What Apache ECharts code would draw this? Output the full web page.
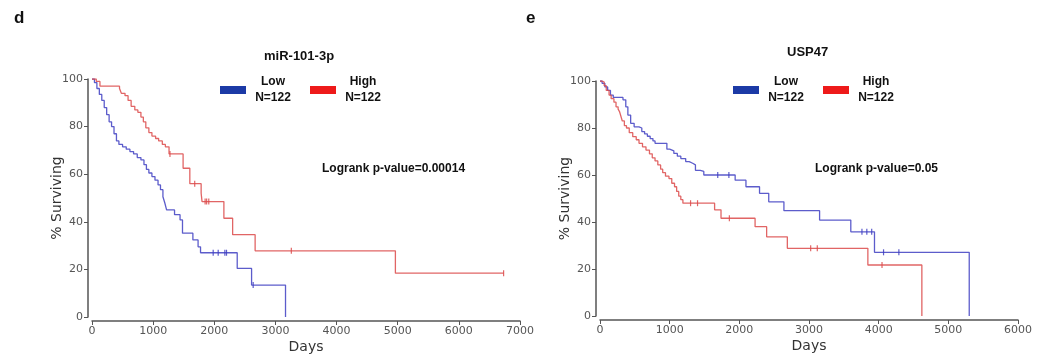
<!DOCTYPE html>
<html>
<head>
<meta charset="utf-8">
<script src="https://cdn.jsdelivr.net/npm/echarts@6/dist/echarts.min.js"></script>
<style>
  html, body { margin: 0; padding: 0; background: #fff; }
  #chart { width: 1049px; height: 356px; }
</style>
</head>
<body>
<div id="chart"></div>
<script>
// panel d: miR-101-3p  -- [day, % surviving after the drop at that day]
const mirLow = [
  [0,100],[40,98.5],[80,96],[120,93.5],[160,91],[200,88],[240,85],[280,82],[320,80],[360,77],
  [400,74],[440,72.5],[500,71.5],[560,70.5],[620,69.5],[680,68.5],[740,67],[800,66],[850,64],
  [890,62],[930,60.5],[980,59],[1030,57.5],[1080,55.5],[1120,53.5],[1160,50.5],[1190,48],
  [1220,45],[1350,43],[1440,40.8],[1480,35.2],[1650,32.4],[1735,29.5],[1775,27],
  [2375,20.4],[2610,13.4],[3165,0]
]
const mirHigh = [
  [0,100],[70,99],[130,97],[450,96],[480,94],[540,93],[590,91],[640,88.5],[700,87],[750,86],
  [800,84],[840,82],[880,79.5],[930,77.5],[980,76],[1040,75],[1090,74],[1150,72.5],[1200,71.5],
  [1260,68.5],[1490,62.5],[1600,56],[1785,52],[1800,48.5],[2157,41.5],[2300,34.6],[2668,27.8],
  [4962,18.4],[6732,18.4]
]
const mirLowCens = [[1982,27],[2064,27],[2173,27],[2200,27],[2636,13.4]]
const mirHighCens = [[1275,68.5],[1680,56],[1850,48.5],[1875,48.5],[1910,48.5],[3260,27.8],[6732,18.4]]

// panel e: USP47
const uspLow = [
  [0,100],[30,99],[70,97.5],[110,96],[150,94],[190,93],[330,92],[370,89],[400,85.5],[440,82],
  [490,80.5],[560,80],[600,78.5],[640,77.5],[680,76.5],[720,75.5],[760,74.5],[790,73.5],
  [960,71],[1000,70.3],[1060,69.2],[1110,68],[1160,67],[1230,65.7],[1280,65],[1330,64.3],
  [1370,62],[1440,61.5],[1490,60],[1940,57.8],[2095,55],[2290,52.2],[2422,48.6],[2640,44.8],
  [3152,40.8],[3600,35.8],[3940,27.1],[5300,0]
]
const uspHigh = [
  [0,100],[30,99.5],[60,98],[90,96],[130,94],[160,92.5],[200,91],[230,89],[260,88],[280,87],
  [300,85],[320,83],[350,81],[380,80],[420,78],[470,76.3],[520,75],[560,73.5],[610,72],[660,70.6],
  [710,69],[750,67.3],[790,66],[830,64.3],[870,62.5],[900,61],[940,59.5],[990,58.5],[1030,56.5],
  [1070,55],[1100,53],[1130,51],[1160,49.5],[1190,48],[1645,45.2],[1737,41.6],[2226,38],
  [2392,33.7],[2689,28.8],[3845,21.7],[4620,0]
]
const uspLowCens = [[1690,60],[1850,60],[3760,35.8],[3830,35.8],[3900,35.8],[4070,27.1],[4290,27.1]]
const uspHighCens = [[1300,48],[1400,48],[1857,41.6],[3024,28.8],[3119,28.8],[4048,21.7]]

const groups = ['Low', 'High']
const groupN = ['N=122', 'N=122']

const blueLine = '#3f3fc2'
const redLine = '#dc4a4a'
const blueKey = '#1c3aa6'
const redKey = '#ee1a1a'
const axisGrey = '#555'
const font = 'DejaVu Sans'
const boldFont = 'Liberation Sans'

const chart = echarts.init(document.getElementById('chart'))

function xAxis(gridIndex, max) {
  return {
    type: 'value', gridIndex, min: 0, max, interval: 1000, offset: 4,
    name: 'Days', nameLocation: 'middle', nameGap: 19, nameMoveOverlap: false,
    nameTextStyle: { fontFamily: font, fontSize: 14, color: '#333' },
    axisLine: { onZero: false, lineStyle: { color: axisGrey, width: 1.5 } },
    axisTick: { length: 4, lineStyle: { color: axisGrey } },
    axisLabel: { fontFamily: font, fontSize: 11, color: axisGrey, margin: 5, formatter: v => String(v) },
    splitLine: { show: false },
  }
}

function yAxis(gridIndex) {
  return {
    type: 'value', gridIndex, min: 0, max: 100, interval: 20, offset: 4,
    name: '% Surviving', nameLocation: 'middle', nameGap: 24, nameMoveOverlap: false,
    nameTextStyle: { fontFamily: font, fontSize: 14, color: '#333' },
    axisLine: { show: true, onZero: false, lineStyle: { color: axisGrey, width: 1.5 } },
    axisTick: { show: true, length: 4, lineStyle: { color: axisGrey } },
    axisLabel: { fontFamily: font, fontSize: 11, color: axisGrey, margin: 5 },
    splitLine: { show: false },
  }
}

function curve(name, data, color, idx) {
  return {
    name, type: 'line', step: 'end', data, xAxisIndex: idx, yAxisIndex: idx,
    showSymbol: false, symbol: 'none', silent: true,
    lineStyle: { color, width: 1.3, opacity: 0.85 },
    itemStyle: { color },
  }
}

function censor(name, data, color, idx) {
  return {
    name, type: 'scatter', data, xAxisIndex: idx, yAxisIndex: idx,
    symbol: 'rect', symbolSize: [1.2, 6], silent: true,
    itemStyle: { color, opacity: 0.85 },
  }
}

function legend(left, top) {
  return {
    left, top, orient: 'horizontal', selectedMode: false,
    itemWidth: 26, itemHeight: 8, itemGap: 15, icon: 'rect',
    data: [
      { name: groups[0], itemStyle: { color: blueKey } },
      { name: groups[1], itemStyle: { color: redKey } },
    ],
    formatter: name => `{a|${name}}\n{a|${groupN[groups.indexOf(name)]}}`,
    textStyle: {
      rich: { a: { width: 44, align: 'center', fontFamily: boldFont, fontWeight: 'bold', fontSize: 12, lineHeight: 16, color: '#111' } },
    },
  }
}

function label(text, x, y, size) {
  return {
    type: 'text', left: x, top: y,
    style: { text, fontFamily: boldFont, fontWeight: 'bold', fontSize: size, fill: '#111' },
  }
}

chart.setOption({
  animation: false,
  grid: [
    { left: 92, top: 79, width: 428, height: 238, outerBoundsMode: 'none' },
    { left: 600, top: 81, width: 418, height: 235, outerBoundsMode: 'none' },
  ],
  xAxis: [xAxis(0, 7000), xAxis(1, 6000)],
  yAxis: [yAxis(0), yAxis(1)],
  legend: [legend(215, 71), legend(728, 71)],
  graphic: [
    label('d', 14, 10, 17),
    label('e', 526, 10, 17),
    label('miR-101-3p', 264, 50, 13),
    label('USP47', 787, 46, 13),
    label('Logrank p-value=0.00014', 322, 163, 12),
    label('Logrank p-value=0.05', 815, 163, 12),
  ],
  series: [
    curve(groups[0], mirLow, blueLine, 0),
    curve(groups[1], mirHigh, redLine, 0),
    censor('Low censored', mirLowCens, blueLine, 0),
    censor('High censored', mirHighCens, redLine, 0),
    curve(groups[0], uspLow, blueLine, 1),
    curve(groups[1], uspHigh, redLine, 1),
    censor('Low censored', uspLowCens, blueLine, 1),
    censor('High censored', uspHighCens, redLine, 1),
  ],
})
</script>
</body>
</html>
